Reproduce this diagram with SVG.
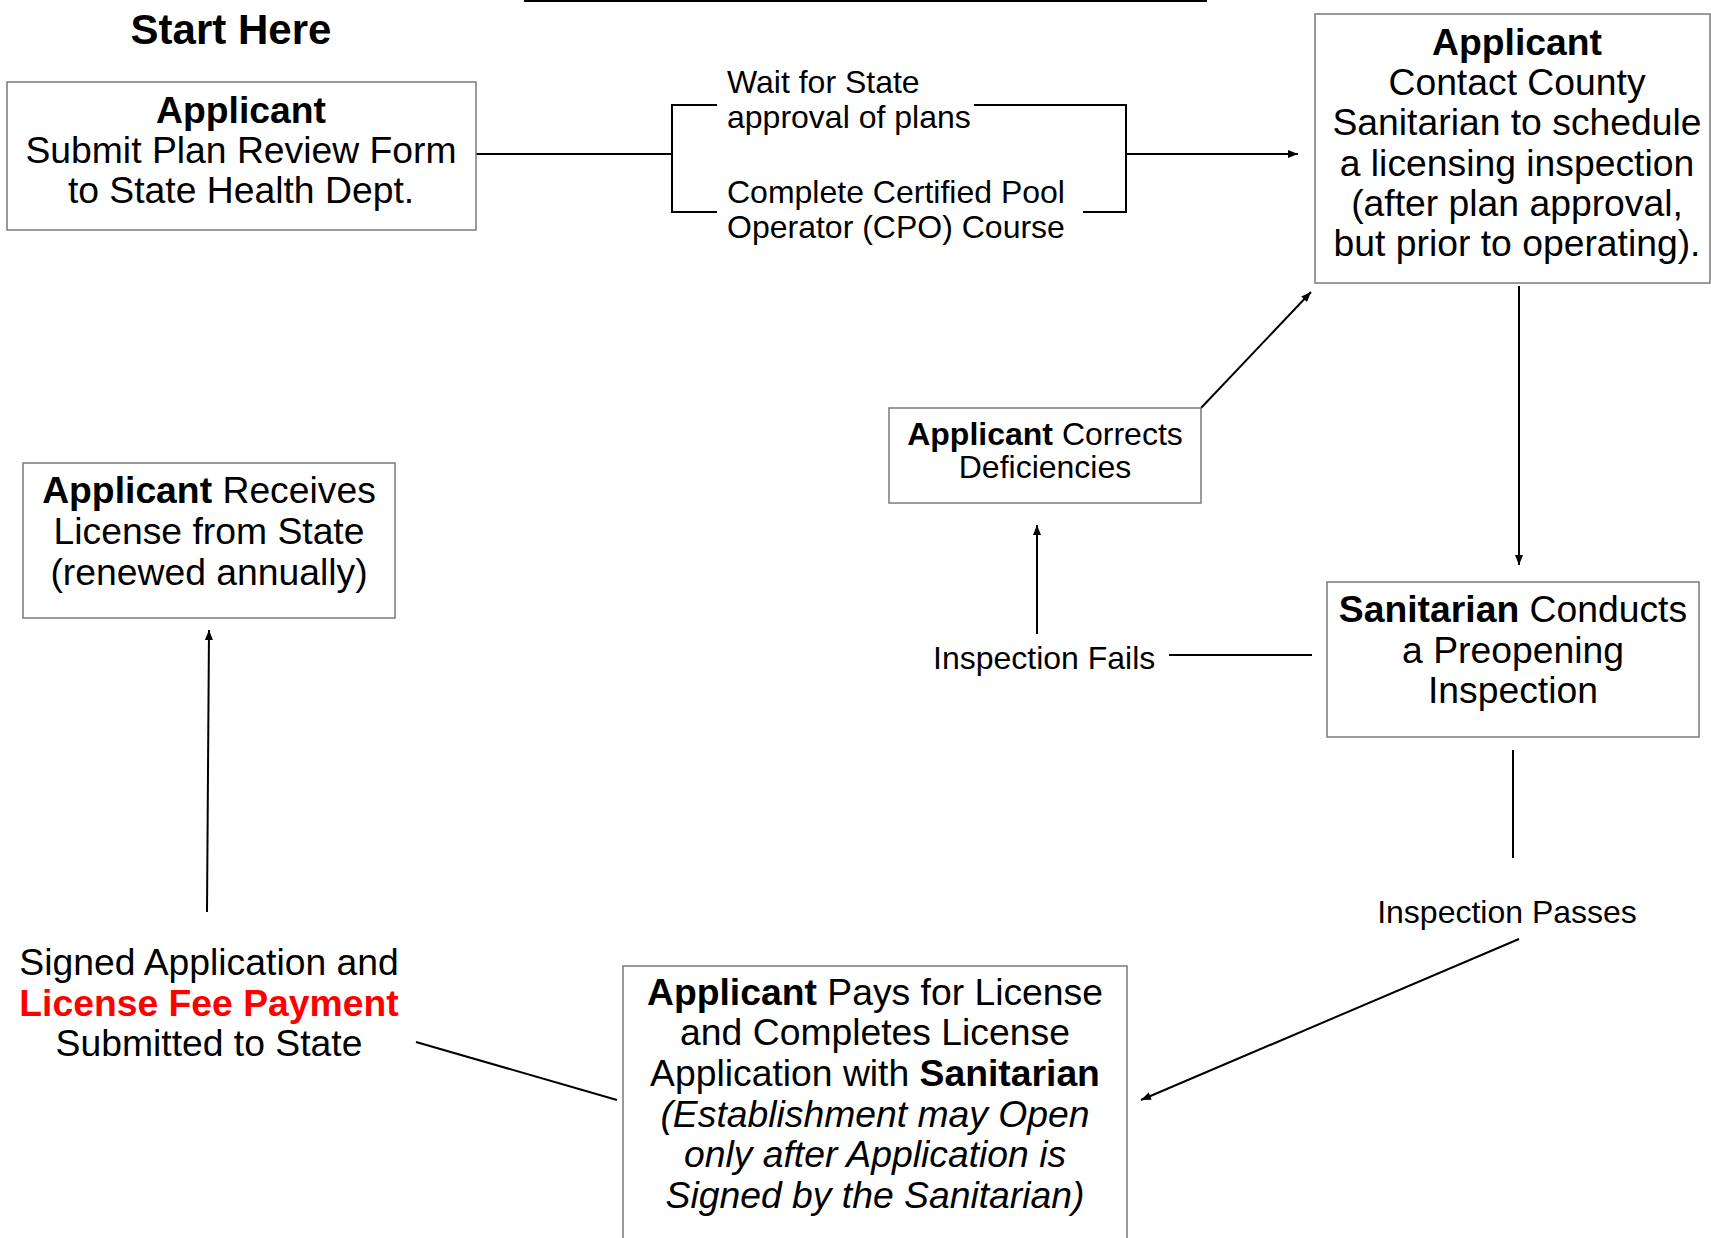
<svg xmlns="http://www.w3.org/2000/svg" width="1711" height="1238" viewBox="0 0 1711 1238">
<style>
text{font-family:"Liberation Sans",Arial,sans-serif;fill:#000}
.t37{font-size:37.3px}
.t32{font-size:32px}
.c{text-anchor:middle}
.b{font-weight:bold}
.i{font-style:italic}
.box{fill:#fff;stroke:#7a7a7a;stroke-width:1.5}
.ln{fill:none;stroke:#000;stroke-width:2}
</style>
<defs>
<marker id="ah" markerUnits="userSpaceOnUse" markerWidth="10" markerHeight="8" refX="10" refY="4" orient="auto">
<path d="M0,0 L10,4 L0,8 Z" fill="#000"/>
</marker>
</defs>
<rect width="1711" height="1238" fill="#fff"/>
<line x1="524" y1="1" x2="1207" y2="1" stroke="#000" stroke-width="2"/>
<text x="231" y="44" class="c b" font-size="42">Start Here</text>

<g id="connectors">
<line class="ln" x1="476" y1="154" x2="672" y2="154"/>
<path class="ln" d="M717,105 H672 V212 H717"/>
<path class="ln" d="M974,105 H1126 V212 H1083"/>
<line class="ln" x1="1126" y1="154" x2="1298" y2="154" marker-end="url(#ah)"/>
<line class="ln" x1="1519" y1="286" x2="1519" y2="565" marker-end="url(#ah)"/>
<line class="ln" x1="1312" y1="655" x2="1169" y2="655"/>
<line class="ln" x1="1037" y1="634" x2="1037" y2="525" marker-end="url(#ah)"/>
<line class="ln" x1="1201" y1="408" x2="1311" y2="292" marker-end="url(#ah)"/>
<line class="ln" x1="1513" y1="750" x2="1513" y2="858"/>
<line class="ln" x1="1519" y1="939" x2="1141" y2="1100" marker-end="url(#ah)"/>
<line class="ln" x1="617" y1="1100" x2="416" y2="1042"/>
<line class="ln" x1="207" y1="912" x2="209" y2="630" marker-end="url(#ah)"/>
<text x="727" y="93" class="t32">Wait for State</text>
<text x="727" y="128" class="t32">approval of plans</text>
<text x="727" y="203" class="t32">Complete Certified Pool</text>
<text x="727" y="238" class="t32">Operator (CPO) Course</text>
<text x="933" y="669" class="t32">Inspection Fails</text>
<text x="1507" y="923" class="t32 c">Inspection Passes</text>
</g>

<g id="node-submit">
<rect class="box" x="7" y="82" width="469" height="148"/>
<text x="241" y="123" class="t37 c b">Applicant</text>
<text x="241" y="163" class="t37 c">Submit Plan Review Form</text>
<text x="241" y="203" class="t37 c">to State Health Dept.</text>
</g>

<g id="node-contact">
<rect class="box" x="1315" y="14" width="395" height="269"/>
<text x="1517" y="55" class="t37 c b">Applicant</text>
<text x="1517" y="95" class="t37 c">Contact County</text>
<text x="1517" y="135" class="t37 c">Sanitarian to schedule</text>
<text x="1517" y="176" class="t37 c">a licensing inspection</text>
<text x="1517" y="216" class="t37 c">(after plan approval,</text>
<text x="1517" y="256" class="t37 c">but prior to operating).</text>
</g>

<g id="node-corrects">
<rect class="box" x="889" y="408" width="312" height="95"/>
<text x="1045" y="445" class="t32 c"><tspan class="b">Applicant</tspan> Corrects</text>
<text x="1045" y="478" class="t32 c">Deficiencies</text>
</g>

<g id="node-inspection">
<rect class="box" x="1327" y="582" width="372" height="155"/>
<text x="1513" y="622" class="t37 c"><tspan class="b">Sanitarian</tspan> Conducts</text>
<text x="1513" y="663" class="t37 c">a Preopening</text>
<text x="1513" y="703" class="t37 c">Inspection</text>
</g>

<g id="node-receives">
<rect class="box" x="23" y="463" width="372" height="155"/>
<text x="209" y="503" class="t37 c"><tspan class="b">Applicant</tspan> Receives</text>
<text x="209" y="544" class="t37 c">License from State</text>
<text x="209" y="585" class="t37 c">(renewed annually)</text>
</g>

<g id="node-signed">
<text x="209" y="975" class="t37 c">Signed Application and</text>
<text x="209" y="1016" class="t37 c b" style="fill:#ff0000">License Fee Payment</text>
<text x="209" y="1056" class="t37 c">Submitted to State</text>
</g>

<g id="node-pays">
<rect class="box" x="623" y="966" width="504" height="290"/>
<text x="875" y="1005" class="t37 c"><tspan class="b">Applicant</tspan> Pays for License</text>
<text x="875" y="1045" class="t37 c">and Completes License</text>
<text x="875" y="1086" class="t37 c">Application with <tspan class="b">Sanitarian</tspan></text>
<text x="875" y="1127" class="t37 c i">(Establishment may Open</text>
<text x="875" y="1167" class="t37 c i">only after Application is</text>
<text x="875" y="1208" class="t37 c i">Signed by the Sanitarian)</text>
</g>
</svg>
